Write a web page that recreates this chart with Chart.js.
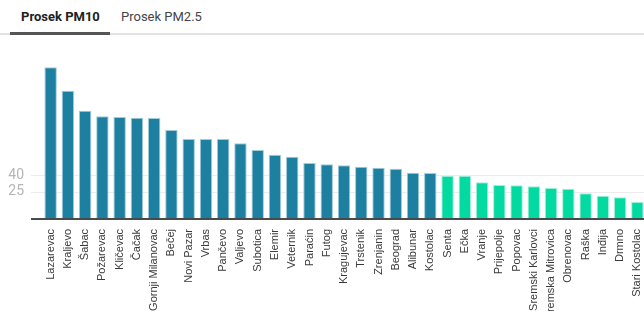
<!DOCTYPE html>
<html>
<head>
<meta charset="utf-8">
<script src="https://cdn.jsdelivr.net/npm/chart.js@4/dist/chart.umd.min.js"></script>
<style>
  html, body { margin: 0; padding: 0; background: #fff; overflow: hidden; width: 644px; height: 311px; }
  .tab { position: absolute; top: 8px; font: 13px Roboto, sans-serif; line-height: 17px; color: #444; }
  .tab.on { font-weight: bold; color: #212121; }
  #rule { position: absolute; left: 0; top: 33px; width: 644px; height: 2px; background: #e2e2e2; }
  #mark { position: absolute; left: 10px; top: 32px; width: 100px; height: 3px; background: #555; }
  #wrap { position: absolute; left: 0; top: 36px; width: 650px; height: 275px; }
</style>
</head>
<body>
<div class="tab on" style="left:21px">Prosek PM10</div>
<div class="tab" style="left:121px">Prosek PM2.5</div>
<div id="rule"></div>
<div id="mark"></div>
<div id="wrap"><canvas id="c" width="650" height="275"></canvas></div>
<script>
// PM10 averages per town
const towns = ['Lazarevac', 'Kraljevo', 'Šabac', 'Požarevac', 'Kličevac', 'Čačak', 'Gornji Milanovac',
  'Bečej', 'Novi Pazar', 'Vrbas', 'Pančevo', 'Valjevo', 'Subotica', 'Elemir', 'Veternik', 'Paraćin',
  'Futog', 'Kragujevac', 'Trstenik', 'Zrenjanin', 'Beograd', 'Alibunar', 'Kostolac', 'Senta', 'Ečka',
  'Vranje', 'Prijepolje', 'Popovac', 'Sremski Karlovci', 'Sremska Mitrovica', 'Obrenovac', 'Raška',
  'Inđija', 'Drmno', 'Stari Kostolac'];
const pm10 = [138.8, 117.4, 99.1, 94, 93.3, 92.7, 92.4,
  81.4, 73.2, 73.2, 73.2, 69.3, 63.1, 58.8, 57, 51.2,
  50, 49.1, 47.8, 46.9, 46, 42.4, 42.1, 39.5, 39.5,
  33.6, 31.1, 30.8, 29.9, 28.4, 27.7, 23.5,
  21.3, 19.9, 15.6];
const yTicks = [25, 40];
const limit = 40;   // bars above this are dark, the rest green

const DARK = '#1e80a1', GREEN = '#02daa2';

// gridlines + baseline start a bit left of the first bar, like the original
const rules = {
  id: 'rules',
  beforeDatasetsDraw(chart) {
    const { ctx, scales: { y } } = chart;
    ctx.save();
    ctx.strokeStyle = '#ececec';
    ctx.lineWidth = 1;
    yTicks.forEach(v => {
      const py = Math.round(y.getPixelForValue(v)) + 0.5;
      ctx.beginPath(); ctx.moveTo(31, py); ctx.lineTo(chart.width, py); ctx.stroke();
    });
    ctx.restore();
  },
  afterDatasetsDraw(chart) {
    const { ctx, scales: { y } } = chart;
    const py = Math.round(y.getPixelForValue(0));
    ctx.save();
    ctx.strokeStyle = '#4a4a4a';
    ctx.lineWidth = 2;
    ctx.beginPath(); ctx.moveTo(31, py); ctx.lineTo(chart.width, py); ctx.stroke();
    ctx.restore();
  }
};

new Chart(document.getElementById('c'), {
  type: 'bar',
  data: {
    labels: towns,
    datasets: [{
      data: pm10,
      backgroundColor: pm10.map(v => v > limit ? DARK : GREEN),
      borderColor: pm10.map(v => v > limit ? '#9fcbdb' : '#9ff0d8'),
      borderWidth: 1,
      borderSkipped: 'bottom',
      barPercentage: 0.72,
      categoryPercentage: 1
    }]
  },
  options: {
    responsive: false,
    animation: false,
    layout: { padding: { top: 19, right: 4, bottom: 0, left: 0 } },
    plugins: { legend: { display: false }, tooltip: { enabled: false } },
    scales: {
      x: {
        grid: { display: false, drawTicks: false },
        border: { display: false },
        ticks: {
          autoSkip: false, maxRotation: 90, minRotation: 90, padding: 10,
          color: '#3a3a3a', font: { family: '"Liberation Sans", Arial, sans-serif', size: 11 }
        },
        afterFit(s) { s.height = 92; s.paddingLeft = 0; s.paddingRight = 0; }
      },
      y: {
        min: 0, max: 150,
        grid: { display: false, drawTicks: false },
        border: { display: false },
        ticks: { padding: 18, color: '#b5b5b5', font: { family: 'Roboto, sans-serif', size: 14 } },
        afterBuildTicks(s) { s.ticks = yTicks.map(v => ({ value: v })); },
        afterFit(s) { s.width = 42; s.paddingTop = 0; s.paddingBottom = 0; }
      }
    }
  },
  plugins: [rules]
});
</script>
</body>
</html>
